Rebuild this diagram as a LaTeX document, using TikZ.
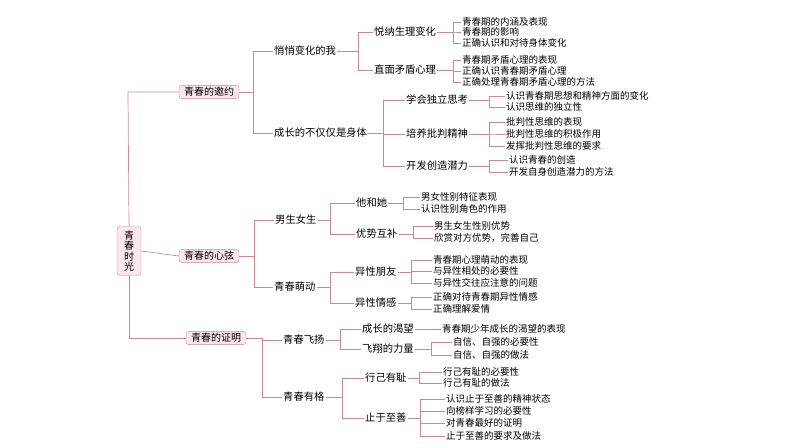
\documentclass[tikz,border=0pt]{standalone}
\usepackage{fontspec}
\setmainfont{Noto Sans CJK SC}
\begin{document}
\begin{tikzpicture}[x=1pt,y=-1pt,
  ln/.style={draw=lnc,line width=0.7pt},
  box/.style={draw=lnc,fill=boxc,rounded corners=3pt,inner xsep=5pt,inner ysep=2pt,font=\fontsize{10}{11}\selectfont},
  mid/.style={anchor=west,inner sep=1pt,font=\fontsize{10.3}{11}\selectfont},
  leaf/.style={anchor=west,inner sep=1pt,font=\fontsize{9.5}{10}\selectfont}]
\definecolor{lnc}{HTML}{C48A98}
\definecolor{boxc}{HTML}{FBE6EB}
\useasboundingbox (0,0) rectangle (794,447);
\newcommand\mybr[3]{\foreach \c in {#3}{\draw[ln] (#1.east) -- ++(#2,0) |- (\c.west);}}
% root
\node[box,inner sep=0pt,minimum width=24pt,minimum height=49pt,align=center,font=\fontsize{10}{10.5}\selectfont] (r) at (129,251) {青\\春\\时\\光};
\node[box] (a) at (209,92) {青春的邀约};
\node[box] (b) at (209,256) {青春的心弦};
\node[box] (c) at (216,338) {青春的证明};
\coordinate (t) at (128,92);
\draw[ln] (r.north) -- (t) -- (a.west);
\draw[ln] (r.east) -- (b.west);
\draw[ln] (r.south) |- (c.west);
% A
\node[mid] (a1) at (273,51) {悄悄变化的我};
\node[mid] (a2) at (273,133) {成长的不仅仅是身体};
\mybr{a}{14}{a1,a2}
\node[mid] (a11) at (373,32) {悦纳生理变化};
\node[mid] (a12) at (373,70) {直面矛盾心理};
\mybr{a1}{21}{a11,a12}
\node[leaf] (l1) at (461,22) {青春期的内涵及表现};
\node[leaf] (l2) at (461,32) {青春期的影响};
\node[leaf] (l3) at (461,43) {正确认识和对待身体变化};
\mybr{a11}{16}{l1,l2,l3}
\node[leaf] (l4) at (461,60) {青春期矛盾心理的表现};
\node[leaf] (l5) at (461,71) {正确认识青春期矛盾心理};
\node[leaf] (l6) at (461,82) {正确处理青春期矛盾心理的方法};
\mybr{a12}{16}{l4,l5,l6}
\node[mid] (a21) at (405,100) {学会独立思考};
\node[mid] (a22) at (405,134) {培养批判精神};
\node[mid] (a23) at (405,166) {开发创造潜力};
\mybr{a2}{15}{a21,a22,a23}
\node[leaf] (l7) at (505,96) {认识青春期思想和精神方面的变化};
\node[leaf] (l8) at (505,107) {认识思维的独立性};
\mybr{a21}{20}{l7,l8}
\node[leaf] (l9) at (505,122) {批判性思维的表现};
\node[leaf] (l10) at (505,134) {批判性思维的积极作用};
\node[leaf] (l11) at (505,146) {发挥批判性思维的要求};
\mybr{a22}{20}{l9,l10,l11}
\node[leaf] (l12) at (508,160) {认识青春的创造};
\node[leaf] (l13) at (508,172) {开发自身创造潜力的方法};
\mybr{a23}{20}{l12,l13}
% B
\node[mid] (b1) at (274,220) {男生女生};
\node[mid] (b2) at (273,287) {青春萌动};
\mybr{b}{15}{b1,b2}
\node[mid] (b11) at (355,203) {他和她};
\node[mid] (b12) at (355,234) {优势互补};
\mybr{b1}{13}{b11,b12}
\node[leaf] (m1) at (420,197) {男女性别特征表现};
\node[leaf] (m2) at (420,209) {认识性别角色的作用};
\mybr{b11}{15}{m1,m2}
\node[leaf] (m3) at (433,226) {男生女生性别优势};
\node[leaf] (m4) at (433,238) {欣赏对方优势，完善自己};
\mybr{b12}{15}{m3,m4}
\node[mid] (b21) at (354,272) {异性朋友};
\node[mid] (b22) at (354,303) {异性情感};
\mybr{b2}{14}{b21,b22}
\node[leaf] (m5) at (432,260) {青春期心理萌动的表现};
\node[leaf] (m6) at (432,271) {与异性相处的必要性};
\node[leaf] (m7) at (432,283) {与异性交往应注意的问题};
\mybr{b21}{14}{m5,m6,m7}
\node[leaf] (m8) at (432,297) {正确对待青春期异性情感};
\node[leaf] (m9) at (432,309) {正确理解爱情};
\mybr{b22}{14}{m8,m9}
% C
\node[mid] (c1) at (282,340) {青春飞扬};
\node[mid] (c2) at (282,397) {青春有格};
\mybr{c}{16}{c1,c2}
\node[mid] (c11) at (361,329) {成长的渴望};
\node[mid] (c12) at (361,349) {飞翔的力量};
\mybr{c1}{15}{c11,c12}
\node[leaf] (n1) at (441,329) {青春期少年成长的渴望的表现};
\draw[ln] (c11.east) -- (n1.west);
\node[leaf] (n2) at (452,342) {自信、自强的必要性};
\node[leaf] (n3) at (452,355) {自信、自强的做法};
\mybr{c12}{16}{n2,n3}
\node[mid] (c21) at (364,378) {行己有耻};
\node[mid] (c22) at (364,418) {止于至善};
\mybr{c2}{17}{c21,c22}
\node[leaf] (n4) at (442,372) {行己有耻的必要性};
\node[leaf] (n5) at (442,383) {行己有耻的做法};
\mybr{c21}{12}{n4,n5}
\node[leaf] (n6) at (445,399) {认识止于至善的精神状态};
\node[leaf] (n7) at (445,411) {向榜样学习的必要性};
\node[leaf] (n8) at (445,423) {对青春最好的证明};
\node[leaf] (n9) at (445,436) {止于至善的要求及做法};
\mybr{c22}{13}{n6,n7,n8,n9}
\end{tikzpicture}
\end{document}
